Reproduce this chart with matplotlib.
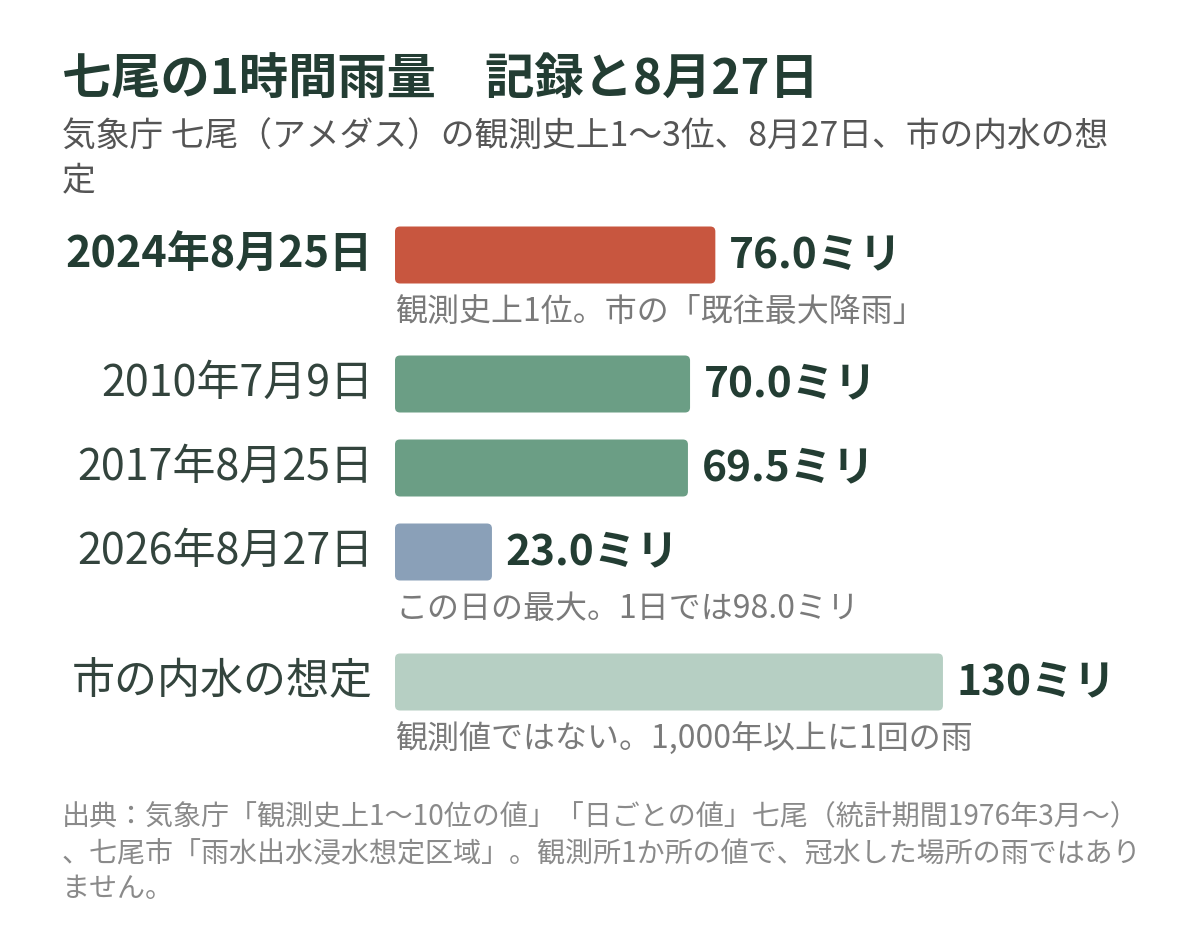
import matplotlib
matplotlib.use("Agg")
import matplotlib.pyplot as plt
from matplotlib.patches import FancyBboxPatch

plt.rcParams['font.family'] = ['Noto Sans CJK JP', 'DejaVu Sans']

# data
labels = ["2024年8月25日", "2010年7月9日", "2017年8月25日", "2026年8月27日", "市の内水の想定"]
values = [76.0, 70.0, 69.5, 23.0, 130]
value_texts = ["76.0ミリ", "70.0ミリ", "69.5ミリ", "23.0ミリ", "130ミリ"]
notes = ["観測史上1位。市の「既往最大降雨」", "", "", "この日の最大。1日では98.0ミリ",
         "観測値ではない。1,000年以上に1回の雨"]
colors = ["#c8563f", "#6b9e85", "#6b9e85", "#8aa0b8", "#b6cfc3"]
bold_label = [True, False, False, False, False]

title = "七尾の1時間雨量　記録と8月27日"
subtitle = "気象庁 七尾（アメダス）の観測史上1〜3位、8月27日、市の内水の想\n定"
footer = ("出典：気象庁「観測史上1〜10位の値」「日ごとの値」七尾（統計期間1976年3月〜）\n"
          "、七尾市「雨水出水浸水想定区域」。観測所1か所の値で、冠水した場所の雨ではあり\n"
          "ません。")

W, H = 1200, 942
fig = plt.figure(figsize=(W / 100, H / 100), dpi=100)
fig.patch.set_facecolor("white")

# bar axes: zero at x=395px, 4.215 px per mm, y in pixels (top down)
x0, scale = 395, 4.215
ax = fig.add_axes([0, 0, 1, 1])
ax.set_xlim(-x0 / scale, (W - x0) / scale)
ax.set_ylim(H, 0)
ax.axis("off")

row_y = [255, 384, 468, 552, 682]
bar_h = 57
dark = "#233d33"

def px(x, y):
    return x / W, 1 - y / H

for i in range(len(values)):
    y = row_y[i]
    rs = 5 / scale
    bar = FancyBboxPatch((0, y - bar_h / 2), values[i], bar_h,
                         boxstyle=f"round,pad=0,rounding_size={rs}",
                         mutation_aspect=scale, facecolor=colors[i], edgecolor="none")
    ax.add_patch(bar)
    ax.annotate(value_texts[i], (values[i], y), xytext=(10, 0), textcoords="offset points",
                ha="left", va="center", fontsize=30.5, fontweight="bold", color=dark)
    fig.text(*px(373, y), labels[i], ha="right", va="center", fontsize=31,
             fontweight="bold" if bold_label[i] else "normal",
             color=dark if bold_label[i] else "#33443d")
    if notes[i]:
        fig.text(*px(395, y + 57), notes[i], ha="left", va="center", fontsize=23, color="#7a7a7a")

fig.text(*px(62, 80), title, ha="left", va="center", fontsize=35.5, fontweight="bold", color=dark)
fig.text(*px(62, 159), subtitle, ha="left", va="center", fontsize=24.3, color="#555555",
         linespacing=1.3)
fig.text(*px(62, 853), footer, ha="left", va="center", fontsize=20.2, color="#8a8a8a",
         linespacing=1.28)

fig.savefig("out.png", dpi=100, facecolor="white")
